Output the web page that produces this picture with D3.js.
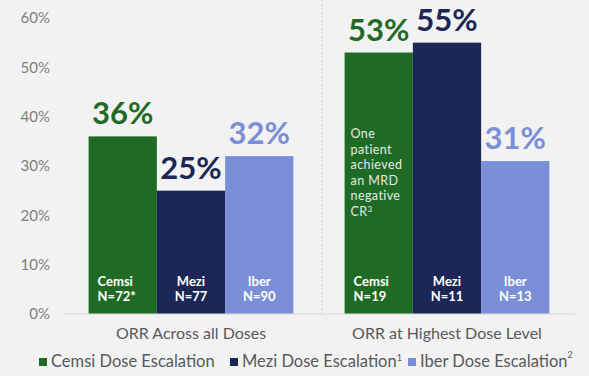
<!DOCTYPE html>
<html>
<head>
<meta charset="utf-8">
<script src="https://cdn.jsdelivr.net/npm/d3@7"></script>
<style>
  html, body { margin: 0; padding: 0; background: #f2f2f2; }
  svg { display: block; font-family: Lato, "Open Sans", sans-serif; }
</style>
</head>
<body>
<svg id="chart" width="589" height="376"></svg>
<script>
const groups = ["ORR Across all Doses", "ORR at Highest Dose Level"];
const drugs = ["Cemsi", "Mezi", "Iber"];
const orrAll = [36, 25, 32];
const orrHighest = [53, 55, 31];
const nAll = ["N=72*", "N=77", "N=90"];
const nHighest = ["N=19", "N=11", "N=13"];
const yTicks = [0, 10, 20, 30, 40, 50, 60];
const legendLabels = ["Cemsi Dose Escalation", "Mezi Dose Escalation", "Iber Dose Escalation"];
const legendSups = ["", "1", "2"];
const noteLines = ["One", "patient", "achieved", "an MRD", "negative", "CR"];

const colors = ["#1f6b25", "#1c2755", "#7b8fd6"];

const rows = [];
groups.forEach(function (g, gi) {
  drugs.forEach(function (d, di) {
    rows.push({
      group: g, drug: d, i: di,
      value: gi === 0 ? orrAll[di] : orrHighest[di],
      n: gi === 0 ? nAll[di] : nHighest[di]
    });
  });
});

const svg = d3.select("#chart");
const margin = {left: 63, right: 14, top: 18, bottom: 62};
const W = 589, H = 376;

const x0 = d3.scaleBand().domain(groups)
  .range([margin.left, W - margin.right])
  .paddingInner(0.2).paddingOuter(0.1);
const x1 = d3.scaleBand().domain(drugs).range([0, x0.bandwidth()]);
const y = d3.scaleLinear().domain([0, 60]).range([H - margin.bottom, margin.top]);

// y axis labels only
const yAxis = svg.append("g")
  .attr("transform", "translate(" + (margin.left - 13) + ",0)")
  .call(d3.axisLeft(y).tickValues(yTicks).tickSize(0).tickFormat(function (d) { return d + "%"; }));
yAxis.select(".domain").remove();
yAxis.selectAll("text")
  .attr("x", 0)
  .style("font-family", "Lato, sans-serif")
  .style("font-size", "15px")
  .attr("fill", "#7f7f7f");

// dotted separator between the two groups
const sepX = x0(groups[1]) - x0.step() * x0.paddingInner() / 2 + 3;
svg.append("line")
  .attr("x1", sepX).attr("x2", sepX)
  .attr("y1", 0).attr("y2", y(0))
  .attr("stroke", "#cfcfcf").attr("stroke-width", 1)
  .attr("stroke-dasharray", "2,2");

const bar = svg.append("g").selectAll("g")
  .data(rows).join("g")
  .attr("transform", function (d) { return "translate(" + (x0(d.group) + x1(d.drug)) + ",0)"; });

bar.append("rect")
  .attr("x", 0)
  .attr("y", function (d) { return y(d.value); })
  .attr("width", x1.bandwidth())
  .attr("height", function (d) { return y(0) - y(d.value); })
  .attr("fill", function (d) { return colors[d.i]; });

bar.append("text")
  .attr("x", x1.bandwidth() / 2)
  .attr("y", function (d) { return y(d.value) - 12; })
  .attr("text-anchor", "middle")
  .attr("font-weight", 700)
  .attr("font-size", 31)
  .attr("fill", function (d) { return colors[d.i]; })
  .text(function (d) { return d.value + "%"; });

// drug name + N inside each bar
const inner = bar.append("text")
  .attr("text-anchor", function (d) { return d.i === 0 ? "start" : "middle"; })
  .attr("font-weight", 700)
  .attr("font-size", 13)
  .attr("fill", "#fff");
inner.append("tspan")
  .attr("x", function (d) { return d.i === 0 ? 9 : x1.bandwidth() / 2; })
  .attr("y", y(0) - 28)
  .text(function (d) { return d.drug; });
inner.append("tspan")
  .attr("x", function (d) { return d.i === 0 ? 9 : x1.bandwidth() / 2; })
  .attr("y", y(0) - 13)
  .text(function (d) { return d.n; });

// note in the highest-dose Cemsi bar
const note = svg.append("text")
  .attr("font-size", 12.5)
  .attr("letter-spacing", 0.4)
  .attr("fill", "#e3ece3");
noteLines.forEach(function (t, k) {
  note.append("tspan")
    .attr("x", x0(groups[1]) + 6)
    .attr("y", 138 + k * 15.5)
    .text(t);
});
note.append("tspan").attr("dy", -4).attr("font-size", 8).text("3");

// baseline
svg.append("line")
  .attr("x1", margin.left).attr("x2", W - margin.right)
  .attr("y1", y(0)).attr("y2", y(0))
  .attr("stroke", "#d9d9d9").attr("stroke-width", 1);

svg.append("g").selectAll("text")
  .data(groups).join("text")
  .attr("x", function (d) { return x0(d) + x0.bandwidth() / 2; })
  .attr("y", y(0) + 25)
  .attr("text-anchor", "middle")
  .attr("font-size", 16)
  .attr("fill", "#595959")
  .text(function (d) { return d; });

// legend
const legX = [39, 230, 408];
const leg = svg.append("g").selectAll("g")
  .data(legendLabels).join("g")
  .attr("transform", function (d, i) { return "translate(" + legX[i] + ",358)"; });
leg.append("rect")
  .attr("width", 8).attr("height", 8)
  .attr("fill", function (d, i) { return colors[i]; });
const lt = leg.append("text")
  .attr("x", 12).attr("y", 9)
  .attr("font-size", 16.5)
  .attr("fill", "#595959");
lt.append("tspan").text(function (d) { return d; });
lt.append("tspan")
  .attr("dy", function (d, i) { return i === 2 ? -9 : -6; })
  .attr("font-size", 9)
  .text(function (d, i) { return legendSups[i]; });
</script>
</body>
</html>
